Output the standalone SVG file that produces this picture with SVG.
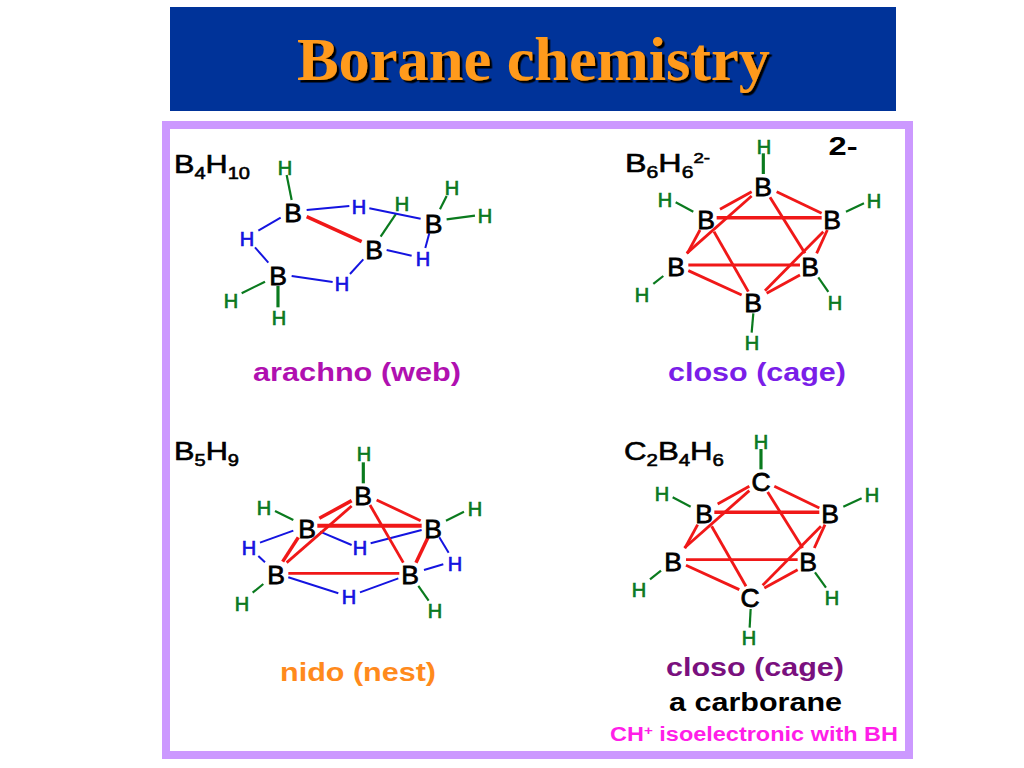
<svg xmlns="http://www.w3.org/2000/svg" width="1024" height="768" viewBox="0 0 1024 768">
<defs>
<filter id="sh" x="-5%" y="-20%" width="110%" height="140%"><feDropShadow dx="2.5" dy="2.5" stdDeviation="0.6" flood-color="#000" flood-opacity="1"/></filter>
</defs>
<style>
text{font-family:"Liberation Sans",Arial,sans-serif}
.t{font-family:"Liberation Serif","Times New Roman",serif;font-weight:bold;font-size:61px;fill:#ff9a1a}
.a{font-size:26.5px;fill:#000;text-anchor:middle;stroke:#000;stroke-width:.8}
.g{font-size:20px;fill:#0a7a1e;text-anchor:middle;stroke:#0a7a1e;stroke-width:.7}
.u{font-size:20px;fill:#1414e0;text-anchor:middle;stroke:#1414e0;stroke-width:.7}
.f{font-size:26px;fill:#000;stroke:#000;stroke-width:.6}
.s{font-size:17px}
.sup{font-size:15px}
.l{font-size:26px;font-weight:bold}
line{fill:none;stroke-linecap:butt}
.rg{stroke:#0a7a1e;stroke-width:6.6}
.rgt{stroke:#0a7a1e;stroke-width:9.5}
.rb{stroke:#1414e0;stroke-width:6}
.rr{stroke:#f01818;stroke-width:8.5}
.rt{stroke:#f01818;stroke-width:10.5}
.rtt{stroke:#f01818;stroke-width:12}
</style>
<rect width="1024" height="768" fill="#fff"/>
<rect id="title-bar" x="170" y="7" width="726" height="104" fill="#003399"/>
<text class="t" x="297" y="80" textLength="473" lengthAdjust="spacingAndGlyphs" filter="url(#sh)">Borane chemistry</text>
<rect id="frame" x="166" y="125" width="743" height="630" fill="#fff" stroke="#cc99ff" stroke-width="8"/>

<g id="connectors">
<g id="c-b4h10" transform="translate(160 120) scale(.3333)">
<line class="rg" x1="380" y1="165" x2="395" y2="240"/><line class="rg" x1="860" y1="228" x2="840" y2="268"/><line class="rg" x1="860" y1="298" x2="945" y2="287"/><line class="rg" x1="708" y1="282" x2="662" y2="350"/><line class="rg" x1="245" y1="520" x2="315" y2="485"/><line class="rgt" x1="354" y1="498" x2="354" y2="562"/>
<line class="rb" x1="440" y1="270" x2="568" y2="258"/><line class="rb" x1="628" y1="265" x2="782" y2="296"/><line class="rb" x1="808" y1="340" x2="796" y2="384"/><line class="rb" x1="680" y1="390" x2="755" y2="407"/><line class="rb" x1="610" y1="418" x2="570" y2="462"/><line class="rb" x1="395" y1="468" x2="518" y2="486"/><line class="rb" x1="325" y1="428" x2="285" y2="382"/><line class="rb" x1="295" y1="332" x2="362" y2="293"/>
<line class="rt" x1="440" y1="290" x2="605" y2="365"/>
</g>
<g id="c-b6h6" transform="translate(610 120) scale(.3333)">
<line class="rgt" x1="460" y1="100" x2="460" y2="162"/><line class="rg" x1="197" y1="247" x2="250" y2="275"/><line class="rg" x1="708" y1="275" x2="762" y2="250"/><line class="rg" x1="130" y1="492" x2="160" y2="468"/><line class="rg" x1="625" y1="472" x2="655" y2="516"/><line class="rg" x1="430" y1="580" x2="425" y2="638"/>
<line class="rr" x1="330" y1="268" x2="425" y2="215"/><line class="rr" x1="425" y1="228" x2="230" y2="400"/><line class="rr" x1="500" y1="215" x2="635" y2="280"/><line class="rr" x1="480" y1="232" x2="585" y2="400"/><line class="rt" x1="320" y1="293" x2="635" y2="293"/><line class="rr" x1="270" y1="330" x2="232" y2="400"/><line class="rr" x1="312" y1="335" x2="415" y2="515"/><line class="rr" x1="235" y1="435" x2="570" y2="435"/><line class="rr" x1="235" y1="452" x2="395" y2="525"/><line class="rr" x1="652" y1="330" x2="620" y2="400"/><line class="rr" x1="640" y1="335" x2="465" y2="512"/><line class="rr" x1="570" y1="465" x2="470" y2="520"/>
</g>
<g id="c-b5h9" transform="translate(160 430) scale(.3333)">
<line class="rgt" x1="610" y1="97" x2="610" y2="160"/><line class="rg" x1="345" y1="243" x2="400" y2="270"/><line class="rg" x1="858" y1="272" x2="912" y2="245"/><line class="rg" x1="278" y1="488" x2="310" y2="462"/><line class="rg" x1="775" y1="468" x2="806" y2="512"/>
<line class="rb" x1="300" y1="338" x2="400" y2="302"/><line class="rb" x1="295" y1="378" x2="315" y2="397"/><line class="rb" x1="480" y1="305" x2="575" y2="345"/><line class="rb" x1="632" y1="340" x2="785" y2="300"/><line class="rb" x1="838" y1="322" x2="866" y2="368"/><line class="rb" x1="792" y1="420" x2="850" y2="403"/><line class="rb" x1="385" y1="442" x2="535" y2="490"/><line class="rb" x1="600" y1="487" x2="715" y2="445"/>
<line class="rt" x1="478" y1="265" x2="575" y2="212"/><line class="rr" x1="575" y1="228" x2="380" y2="398"/><line class="rr" x1="650" y1="210" x2="782" y2="272"/><line class="rr" x1="630" y1="225" x2="730" y2="398"/><line class="rtt" x1="472" y1="287" x2="785" y2="287"/><line class="rt" x1="415" y1="322" x2="368" y2="395"/><line class="rt" x1="805" y1="320" x2="768" y2="398"/><line class="rr" x1="385" y1="430" x2="718" y2="430"/>
</g>
<g id="c-c2b4h6" transform="translate(600 425) scale(.3333)">
<line class="rgt" x1="483" y1="72" x2="483" y2="133"/><line class="rg" x1="218" y1="217" x2="272" y2="245"/><line class="rg" x1="730" y1="245" x2="785" y2="220"/><line class="rg" x1="150" y1="463" x2="183" y2="437"/><line class="rg" x1="645" y1="442" x2="678" y2="488"/><line class="rg" x1="452" y1="552" x2="449" y2="608"/>
<line class="rr" x1="353" y1="237" x2="448" y2="184"/><line class="rr" x1="448" y1="197" x2="253" y2="369"/><line class="rr" x1="523" y1="184" x2="658" y2="249"/><line class="rr" x1="503" y1="201" x2="608" y2="369"/><line class="rt" x1="343" y1="262" x2="658" y2="262"/><line class="rr" x1="293" y1="299" x2="255" y2="369"/><line class="rr" x1="335" y1="304" x2="438" y2="484"/><line class="rr" x1="258" y1="404" x2="593" y2="404"/><line class="rr" x1="258" y1="421" x2="418" y2="494"/><line class="rr" x1="675" y1="299" x2="643" y2="369"/><line class="rr" x1="663" y1="304" x2="488" y2="481"/><line class="rr" x1="593" y1="434" x2="493" y2="489"/>
</g>
</g>

<g id="b4h10">
<text class="f" x="174" y="173" textLength="76" lengthAdjust="spacingAndGlyphs">B<tspan class="s" dy="6">4</tspan><tspan dy="-6">H</tspan><tspan class="s" dy="6">10</tspan></text>
<g id="a1-B1"><text class="a" x="293" y="221.500">B</text></g>
<g id="a1-B2"><text class="a" x="374" y="258.500">B</text></g>
<g id="a1-B3"><text class="a" x="433.500" y="232.500">B</text></g>
<g id="a1-B4"><text class="a" x="278" y="284.500">B</text></g>
<g id="a1-H1"><text class="g" x="285" y="174.500">H</text></g>
<g id="a1-H2"><text class="g" x="452" y="194.500">H</text></g>
<g id="a1-H3"><text class="g" x="485" y="222.500">H</text></g>
<g id="a1-H4"><text class="g" x="402" y="210.500">H</text></g>
<g id="a1-H5"><text class="g" x="231" y="307.500">H</text></g>
<g id="a1-H6"><text class="g" x="279" y="324.500">H</text></g>
<g id="a1-H7"><text class="u" x="359" y="213.500">H</text></g>
<g id="a1-H8"><text class="u" x="423" y="265.500">H</text></g>
<g id="a1-H9"><text class="u" x="342" y="290.500">H</text></g>
<g id="a1-H10"><text class="u" x="247" y="245.500">H</text></g>
<text class="l" x="253" y="381" fill="#b010b0" textLength="208" lengthAdjust="spacingAndGlyphs">arachno (web)</text>
</g>

<g id="b6h6">
<text class="f" x="625" y="172" textLength="85" lengthAdjust="spacingAndGlyphs">B<tspan class="s" dy="6">6</tspan><tspan dy="-6">H</tspan><tspan class="s" dy="6">6</tspan><tspan class="sup" dy="-15">2-</tspan></text>
<text x="843" y="155" font-size="25" font-weight="bold" text-anchor="middle" fill="#000" textLength="29" lengthAdjust="spacingAndGlyphs">2-</text>
<g id="a2-B1"><text class="a" x="763" y="195.500">B</text></g>
<g id="a2-B2"><text class="a" x="706" y="228.500">B</text></g>
<g id="a2-B3"><text class="a" x="832" y="228.500">B</text></g>
<g id="a2-B4"><text class="a" x="676" y="275.500">B</text></g>
<g id="a2-B5"><text class="a" x="810" y="275.500">B</text></g>
<g id="a2-B6"><text class="a" x="753" y="311.500">B</text></g>
<g id="a2-H1"><text class="g" x="764" y="153.500">H</text></g>
<g id="a2-H2"><text class="g" x="665" y="206.500">H</text></g>
<g id="a2-H3"><text class="g" x="874" y="207.500">H</text></g>
<g id="a2-H4"><text class="g" x="642" y="301.500">H</text></g>
<g id="a2-H5"><text class="g" x="835" y="309.500">H</text></g>
<g id="a2-H6"><text class="g" x="752" y="349.500">H</text></g>
<text class="l" x="668" y="381" fill="#7a1ee8" textLength="178" lengthAdjust="spacingAndGlyphs">closo (cage)</text>
</g>

<g id="b5h9">
<text class="f" x="174" y="460" textLength="65" lengthAdjust="spacingAndGlyphs">B<tspan class="s" dy="6">5</tspan><tspan dy="-6">H</tspan><tspan class="s" dy="6">9</tspan></text>
<g id="a3-B1"><text class="a" x="363" y="504.500">B</text></g>
<g id="a3-B2"><text class="a" x="307" y="537.500">B</text></g>
<g id="a3-B3"><text class="a" x="433" y="537.500">B</text></g>
<g id="a3-B4"><text class="a" x="276" y="583.500">B</text></g>
<g id="a3-B5"><text class="a" x="410" y="583.500">B</text></g>
<g id="a3-H1"><text class="g" x="364" y="460.500">H</text></g>
<g id="a3-H2"><text class="g" x="264" y="514.500">H</text></g>
<g id="a3-H3"><text class="g" x="475" y="515.500">H</text></g>
<g id="a3-H4"><text class="g" x="242" y="610.500">H</text></g>
<g id="a3-H5"><text class="g" x="435" y="617.500">H</text></g>
<g id="a3-H6"><text class="u" x="249" y="554.500">H</text></g>
<g id="a3-H7"><text class="u" x="360" y="554.500">H</text></g>
<g id="a3-H8"><text class="u" x="455" y="570.500">H</text></g>
<g id="a3-H9"><text class="u" x="349" y="603.500">H</text></g>
<text class="l" x="280" y="681" fill="#ff8a1c" textLength="156" lengthAdjust="spacingAndGlyphs">nido (nest)</text>
</g>

<g id="c2b4h6">
<text class="f" x="624" y="460" textLength="100" lengthAdjust="spacingAndGlyphs">C<tspan class="s" dy="6">2</tspan><tspan dy="-6">B</tspan><tspan class="s" dy="6">4</tspan><tspan dy="-6">H</tspan><tspan class="s" dy="6">6</tspan></text>
<g id="a4-C1"><text class="a" x="761" y="490.500">C</text></g>
<g id="a4-B1"><text class="a" x="704" y="522.500">B</text></g>
<g id="a4-B2"><text class="a" x="830" y="522.500">B</text></g>
<g id="a4-B3"><text class="a" x="673" y="570.500">B</text></g>
<g id="a4-B4"><text class="a" x="808" y="570.500">B</text></g>
<g id="a4-C2"><text class="a" x="750" y="606.500">C</text></g>
<g id="a4-H1"><text class="g" x="761" y="448.500">H</text></g>
<g id="a4-H2"><text class="g" x="662" y="500.500">H</text></g>
<g id="a4-H3"><text class="g" x="872" y="501.500">H</text></g>
<g id="a4-H4"><text class="g" x="639" y="596.500">H</text></g>
<g id="a4-H5"><text class="g" x="832" y="604.500">H</text></g>
<g id="a4-H6"><text class="g" x="749" y="644.500">H</text></g>
<text class="l" x="666" y="676" fill="#7a107e" textLength="178" lengthAdjust="spacingAndGlyphs">closo (cage)</text>
<text class="l" x="669" y="711" fill="#000" textLength="173" lengthAdjust="spacingAndGlyphs">a carborane</text>
<text x="610" y="741" font-size="20" font-weight="bold" fill="#ff1ee8" textLength="288" lengthAdjust="spacingAndGlyphs">CH<tspan font-size="13" dy="-6">+</tspan><tspan dy="6"> isoelectronic with BH</tspan></text>
</g>
</svg>
